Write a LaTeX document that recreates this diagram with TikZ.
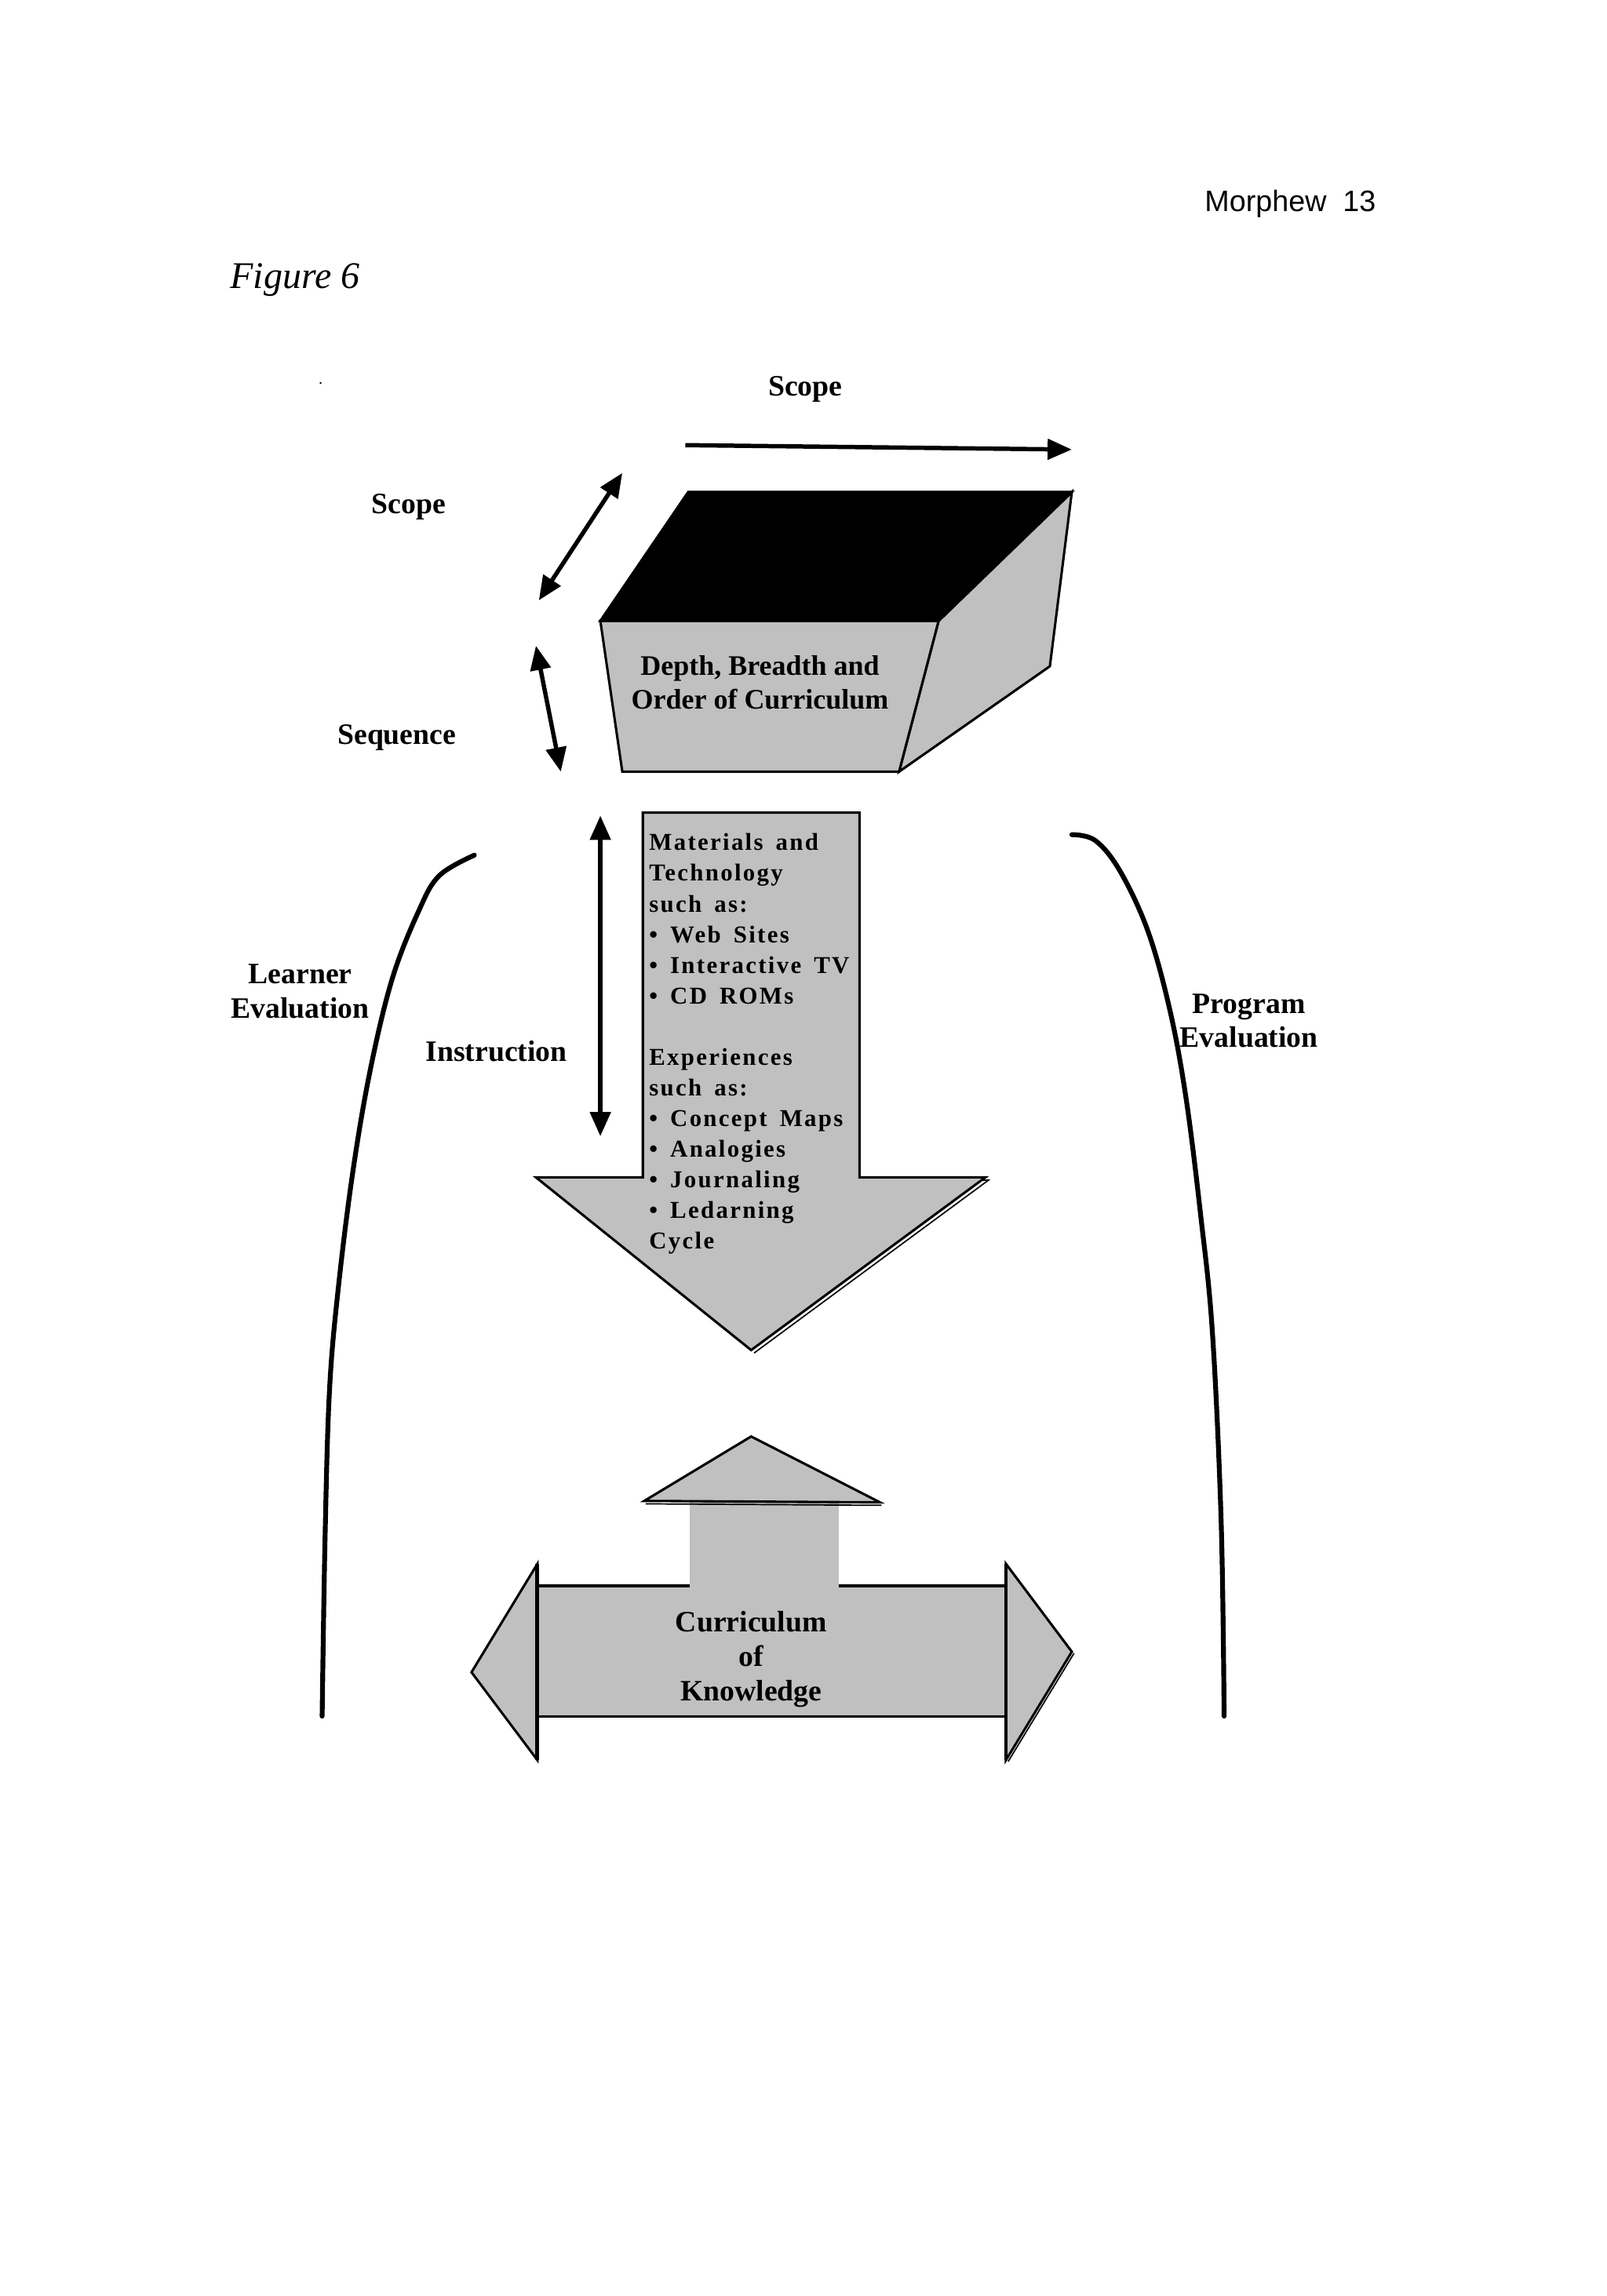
\documentclass[tikz,border=0pt]{standalone}
\usepackage{fontspec}
\setmainfont{Liberation Serif}
\newfontfamily\headfont{Liberation Sans}
\newfontfamily\spacedfont[LetterSpace=7.5,WordSpace=1.6]{Liberation Serif}
\usepackage{xcolor}
\usetikzlibrary{positioning, arrows.meta}
\definecolor{boxgray}{RGB}{192,192,192}
\tikzset{
  grayface/.style={fill=boxgray, draw=black, line width=0.9pt, line join=miter},
  echo/.style={draw=black, line width=0.5pt},
  twoway/.style={line width=1.6pt, {Triangle[length=9pt,width=7.5pt]}-{Triangle[length=9pt,width=7.5pt]}},
  oneway/.style={line width=1.6pt, -{Triangle[length=9pt,width=7.5pt]}},
  evalcurve/.style={line width=1.8pt, line cap=round},
  lbl/.style={font=\bfseries\fontsize{11}{12.6}\selectfont, align=center, inner sep=0pt}
}

\begin{document}
\begin{tikzpicture}[x=0.01914cm, y=-0.01914cm]
  \useasboundingbox (0,0) rectangle (1097,1568);

  % page head
  \node[anchor=east, inner sep=0pt, font=\headfont\fontsize{11}{13}\selectfont] (pagenum) at (940,139) {Morphew\ \ 13};
  \node[anchor=west, inner sep=0pt, font=\itshape\fontsize{14}{16}\selectfont] (figtitle) at (157,191) {Figure 6};
  \node[inner sep=0pt, font=\fontsize{6}{7}\selectfont] (dot) at (219,262) {.};

  % block of curriculum
  \coordinate (bk tl) at (470,336);
  \coordinate (bk tr) at (732,336);
  \coordinate (fr tl) at (410,424);
  \coordinate (fr tr) at (641,424);
  \coordinate (fr br) at (614,527);
  \coordinate (fr bl) at (425,527);
  \coordinate (bk br) at (717,455);
  \draw[echo, shift={(2,2)}] (fr bl) -- (fr br) -- (bk br) -- (bk tr);
  \draw[grayface] (fr tr) -- (bk tr) -- (bk br) -- (fr br) -- cycle;
  \draw[fill=black, draw=black, line width=0.9pt] (fr tl) -- (bk tl) -- (bk tr) -- (fr tr) -- cycle;
  \draw[grayface] (fr tl) -- (fr tr) -- (fr br) -- (fr bl) -- cycle;
  \node[lbl, font=\bfseries\fontsize{10.5}{12.5}\selectfont] (depth) at (519,466) {Depth, Breadth and\\Order of Curriculum};

  % scope and sequence
  \node[lbl] (scopetop) at (550,266) {Scope};
  \coordinate (scope a) at (468,304);
  \coordinate (scope b) at (732,307);
  \draw[oneway] (scope a) -- (scope b);
  \node[lbl] (scopeleft) at (279,346) {Scope};
  \coordinate (depth a) at (425,323);
  \coordinate (depth b) at (368,410);
  \draw[twoway] (depth a) -- (depth b);
  \node[lbl] (sequence) at (271,504) {Sequence};
  \coordinate (seq a) at (366,441);
  \coordinate (seq b) at (383,527);
  \draw[twoway] (seq a) -- (seq b);

  % instruction arrow
  \draw[echo, shift={(2,2)}] (587,804) -- (673,804) -- (513,922);
  \draw[grayface] (439,555) -- (587,555) -- (587,804) -- (673,804) -- (513,922) -- (366,804) -- (439,804) -- cycle;
  \node[anchor=north west, inner sep=0pt, align=left,
        font=\spacedfont\bfseries\fontsize{9}{11.4}\selectfont] (materials) at (443,569)
        {Materials and\\Technology\\such as:\\\textbullet\ Web Sites\\\textbullet\ Interactive TV\\\textbullet\ CD ROMs\\[11.4pt]
         Experiences\\such as:\\\textbullet\ Concept Maps\\\textbullet\ Analogies\\\textbullet\ Journaling\\\textbullet\ Ledarning\\Cycle};
  \node[lbl] (instruction) at (339,718) {Instruction};
  \coordinate (instr a) at (410,557);
  \coordinate (instr b) at (410,776);
  \draw[twoway] (instr a) -- (instr b);

  % evaluation curves
  \draw[evalcurve] plot[smooth, tension=0.6] coordinates {(324,584) (300,598) (286,622) (268,668) (253,730) (241,800) (231,880) (225,950) (222,1050) (220,1172)};
  \draw[evalcurve] plot[smooth, tension=0.6] coordinates {(732,570) (748,574) (765,595) (784,636) (799,690) (810,750) (820,830) (828,910) (834,1040) (836,1172)};
  \node[lbl] (learner) at (205,677) {Learner\\Evaluation};
  \node[lbl] (program) at (853,697) {Program\\Evaluation};

  % curriculum of knowledge
  \fill[boxgray] (471,1020) rectangle (573,1084);
  \draw[echo, shift={(1,2)}] (440,1025) -- (601,1026);
  \draw[grayface] (440,1025) -- (513,981) -- (601,1026) -- cycle;
  \fill[boxgray] (367,1083) rectangle (687,1172);
  \draw[line width=0.9pt] (367,1083) -- (471,1083) (573,1083) -- (687,1083) (367,1172) -- (687,1172);
  \draw[grayface] (367,1068) -- (322,1142) -- (367,1202) -- cycle;
  \draw[echo, shift={(1.5,1)}] (732,1128) -- (687,1202);
  \draw[grayface] (687,1068) -- (732,1128) -- (687,1202) -- cycle;
  \draw[line width=1.4pt] (367,1068) -- (367,1202) (687,1068) -- (687,1202);
  \node[lbl, font=\bfseries\fontsize{11}{12.8}\selectfont] (knowledge) at (513,1133) {Curriculum\\of\\Knowledge};

\end{tikzpicture}
\end{document}
